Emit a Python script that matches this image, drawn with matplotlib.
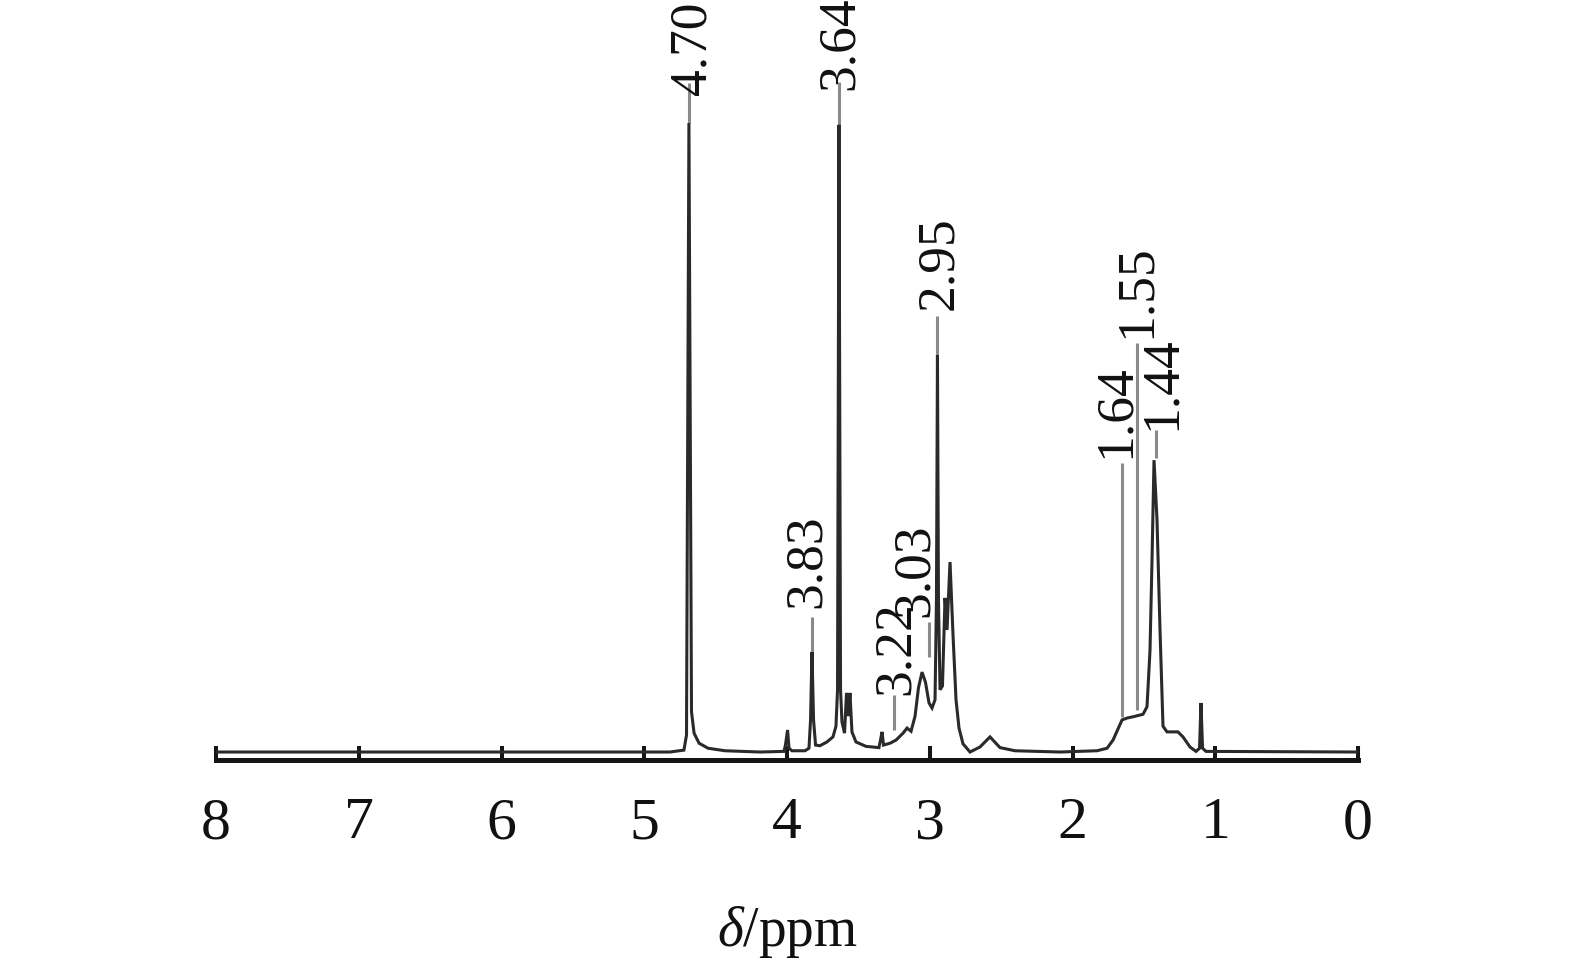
import matplotlib
matplotlib.use("Agg")
import matplotlib.pyplot as plt

plt.rcParams['font.family'] = ['Liberation Serif', 'DejaVu Serif']
plt.rcParams['mathtext.fontset'] = 'custom'
plt.rcParams['mathtext.it'] = 'Liberation Serif:italic'
plt.rcParams['mathtext.rm'] = 'Liberation Serif'

# ---- spectrum trace (chemical shift ppm, relative intensity) ----
spec_ppm = [8.000, 4.820, 4.722, 4.704, 4.687, 4.669, 4.651, 4.616, 4.553, 4.434,
            4.189, 4.021, 4.011, 3.996, 3.986, 3.965, 3.874, 3.846, 3.835, 3.825,
            3.814, 3.800, 3.769, 3.720, 3.678, 3.657, 3.646, 3.636, 3.625, 3.615,
            3.597, 3.583, 3.569, 3.559, 3.545, 3.517, 3.447, 3.356, 3.345, 3.334,
            3.324, 3.278, 3.236, 3.187, 3.159, 3.131, 3.103, 3.079, 3.054, 3.030,
            3.005, 2.984, 2.963, 2.953, 2.946, 2.939, 2.928, 2.911, 2.893, 2.879,
            2.858, 2.837, 2.816, 2.795, 2.767, 2.718, 2.648, 2.578, 2.508, 2.403,
            2.088, 1.828, 1.758, 1.716, 1.653, 1.618, 1.576, 1.506, 1.478, 1.457,
            1.443, 1.429, 1.408, 1.387, 1.366, 1.338, 1.261, 1.226, 1.177, 1.135,
            1.110, 1.100, 1.089, 1.065, 0.000]
spec_int = [0.0, 0.0, 0.3, 2.7, 100.0, 6.4, 3.0, 1.4, 0.6, 0.2,
            0.0, 0.1, 1.1, 3.5, 0.6, 0.2, 0.2, 0.6, 5.1, 15.9,
            5.1, 1.1, 1.0, 1.6, 2.4, 4.1, 9.9, 99.7, 9.9, 4.8,
            3.0, 9.4, 5.7, 9.4, 3.2, 1.6, 0.9, 0.7, 1.9, 3.2,
            1.1, 1.4, 1.9, 3.0, 3.8, 3.3, 5.7, 10.2, 12.7, 11.1,
            7.8, 7.0, 8.3, 24.2, 63.1, 24.2, 9.9, 10.5, 24.5, 19.4,
            30.2, 18.6, 8.3, 3.8, 1.3, 0.0, 0.8, 2.4, 0.7, 0.2,
            0.0, 0.2, 0.6, 1.9, 5.1, 5.4, 5.6, 6.0, 7.2, 16.2,
            30.5, 46.4, 36.9, 19.4, 4.1, 3.2, 3.2, 2.4, 0.8, 0.1,
            0.6, 7.8, 0.6, 0.1, 0.0]

# ---- peak annotations ----
label_text = ["4.70", "3.64", "2.95", "3.83", "3.22", "3.03", "1.64", "1.55", "1.44"]
leader_ppm = [4.687, 3.636, 2.946, 3.825, 3.250, 3.005, 1.653, 1.548, 1.415]
leader_lo = [100.0, 99.7, 63.1, 15.9, 3.5, 15.1, 5.6, 6.7, 46.7]
leader_hi = [106.4, 106.5, 69.3, 21.5, 9.1, 20.7, 45.9, 65.0, 51.2]
label_ppm = [4.574, 3.538, 2.844, 3.769, 3.145, 3.012, 1.604, 1.457, 1.282]
label_int = [104.5, 105.2, 70.3, 22.9, 9.1, 21.5, 46.7, 65.8, 51.2]

x_ticks = [8, 7, 6, 5, 4, 3, 2, 1, 0]
x_label = r"$\delta$/ppm"

fig = plt.figure(figsize=(15.75, 9.65), dpi=100)
ax = fig.add_axes([216 / 1575, 205 / 965, 1142 / 1575, 760 / 965])
ax.set_xlim(8, 0)
ax.set_ylim(-1.27, 119.55)

for x, lo, hi in zip(leader_ppm, leader_lo, leader_hi):
    ax.plot([x, x], [lo, hi], color='#8a8a8a', lw=2.2, solid_capstyle='butt', zorder=2)

ax.plot(spec_ppm, spec_int, color='#2a2a2a', lw=2.2, solid_joinstyle='miter', zorder=3)

for t, x, y in zip(label_text, label_ppm, label_int):
    ax.text(x, y, t, rotation=90, rotation_mode='anchor', ha='left', va='baseline',
            fontsize=38.5, color='#111111', clip_on=False, zorder=4)

for s in ['left', 'right', 'top']:
    ax.spines[s].set_visible(False)
ax.spines['bottom'].set_linewidth(3.6)
ax.spines['bottom'].set_color('#151515')
ax.set_yticks([])
ax.set_xticks(x_ticks)
ax.set_xticklabels([str(v) for v in x_ticks])
ax.tick_params(axis='x', direction='in', length=10, width=2.9, color='#151515',
               pad=27, labelsize=43, labelcolor='#111111')
ax.set_xlabel(x_label, fontsize=40, color='#111111')
ax.xaxis.set_label_coords(0.5, -0.19)
ax.xaxis.label.set_va('top')
ax.patch.set_alpha(0)

fig.savefig("out.png", dpi=100, facecolor='white')
